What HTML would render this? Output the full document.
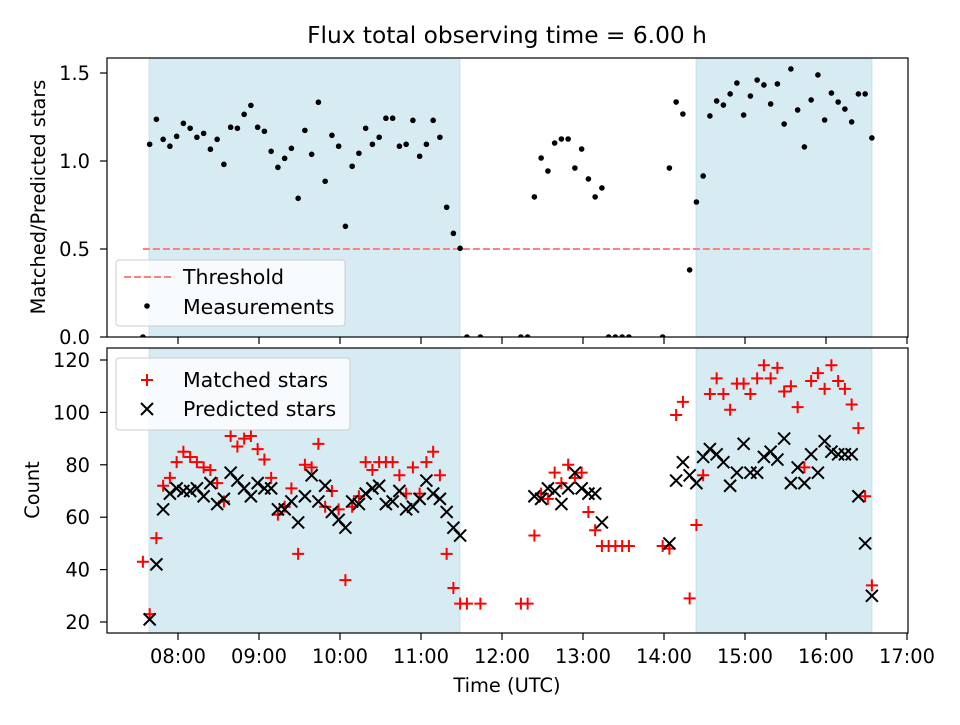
<!DOCTYPE html>
<html><head><meta charset="utf-8"><style>
body{margin:0;background:#fff}
svg text{font-family:"DejaVu Sans","Liberation Sans",sans-serif;fill:#000}
</style></head><body>
<svg id="fig" width="960" height="720" xmlns="http://www.w3.org/2000/svg">
<defs>
<clipPath id="clipTop"><rect x="107" y="58" width="801" height="279"/></clipPath>
<clipPath id="clipBot"><rect x="107" y="348" width="801" height="285"/></clipPath>
</defs>
<text x="507" y="43" font-size="23.3" text-anchor="middle">Flux total observing time = 6.00 h</text>
<g id="topPanel"></g>
<g id="botPanel"></g>
<text x="507" y="692" font-size="19.4" text-anchor="middle">Time (UTC)</text>
<text transform="translate(45,197) rotate(-90)" font-size="19.4" text-anchor="middle">Matched/Predicted stars</text>
<text transform="translate(39,490) rotate(-90)" font-size="19.4" text-anchor="middle">Count</text>
</svg>
<script>
const times = [454,459,464,469,474,479,484,489,494,499,504,509,514,519,524,529,534,539,544,549,554,559,564,569,574,579,584,589,594,599,604,609,614,619,624,629,634,639,644,649,654,659,664,669,674,679,684,689,694,699,704,709,714,719,724,729,734,739,744,749,754,759,764,769,774,779,784,789,794,799,804,809,814,819,824,829,834,839,844,849,854,859,864,869,874,879,884,889,894,899,904,909,914,919,924,929,934,939,944,949,954,959,964,969,974,979,984,989,994];
const ratio = [0,1.095,1.237,1.123,1.084,1.140,1.214,1.186,1.135,1.157,1.067,1.123,0.981,1.192,1.186,1.265,1.316,1.192,1.169,1.055,0.964,1.015,1.072,0.788,1.174,1.038,1.334,0.885,1.146,1.084,0.629,0.970,1.044,1.186,1.095,1.135,1.243,1.243,1.084,1.095,1.231,1.027,1.095,1.231,1.135,0.737,0.589,0.504,0,null,0,null,null,null,null,null,0,0,0.796,1.017,0.943,1.102,1.125,1.125,0.960,1.068,0.898,0.796,0.847,0,0,0,0,null,null,null,null,0,0.960,1.335,1.267,0.381,0.767,0.915,1.256,1.341,1.318,1.381,1.443,1.261,1.369,1.460,1.432,1.324,1.438,1.210,1.523,1.290,1.080,1.347,1.489,1.233,1.386,1.335,1.295,1.222,1.381,1.381,1.131];
const matched = [43,23,52,72,75,81,85,83,81,79,78,73,66,91,87,90,91,86,82,75,61,64,71,46,80,79,88,64,70,63,36,64,68,81,78,81,81,81,76,69,79,69,81,85,76,46,33,27,27,null,27,null,null,null,null,null,27,27,53,69,67,77,73,80,75,77,62,55,49,49,49,49,49,null,null,null,null,49,48,99,104,29,57,76,107,113,107,101,111,111,107,113,118,113,117,108,110,102,79,112,115,109,118,112,109,103,94,68,34];
const predicted = [null,21,42,63,69,71,70,70,71,68,73,65,67,77,74,71,68,73,71,71,63,63,66,58,68,76,66,72,62,59,56,66,65,69,71,72,65,66,70,63,64,67,74,69,67,62,56,53,null,null,null,null,null,null,null,null,null,null,68,67,71,70,65,71,77,71,69,69,58,null,null,null,null,null,null,null,null,null,50,74,81,76,73,83,86,84,81,72,77,88,77,77,83,85,82,90,73,79,73,84,77,89,85,84,84,84,68,50,30];
const threshold = 0.5;
const shadeStart = [7.642, 14.395];
const shadeEnd = [11.48, 16.568];
const xTickLabels = ["08:00","09:00","10:00","11:00","12:00","13:00","14:00","15:00","16:00","17:00"];
const xTickHours = [8,9,10,11,12,13,14,15,16,17];
const topTicks = [0.0,0.5,1.0,1.5];
const botTicks = [20,40,60,80,100,120];

const NS="http://www.w3.org/2000/svg";
const X0=107,X1=908;
const TF=19.4;
function xh(h){return 178+(h-8)*81;}
function xm(m){return xh(m/60);}
function yTop(v){return 337-v*176;}
function yBot(v){return 622-(v-20)*2.62;}
function mk(tag,attrs,parent){const e=document.createElementNS(NS,tag);for(const k in attrs)e.setAttribute(k,attrs[k]);parent.appendChild(e);return e;}

function panel(g,yA,yB,yfn,ticks,fmt,showX){
  for(let i=0;i<shadeStart.length;i++){
    const r=mk('rect',{x:xh(shadeStart[i]),y:yA,width:xh(shadeEnd[i])-xh(shadeStart[i]),height:yB-yA,fill:'#add8e6','fill-opacity':0.5,stroke:'#add8e6','stroke-opacity':0.6},g);
    
    
  }
  const frame=mk('rect',{x:X0,y:yA,width:X1-X0,height:yB-yA,fill:'none',stroke:'#000','stroke-width':1.2},g);
  
  
  ticks.forEach(t=>{
    const y=yfn(t);
    mk('line',{x1:X0-7,x2:X0,y1:y,y2:y,stroke:'#000','stroke-width':1.2},g);
    const tx=mk('text',{x:X0-17,y:y+7,'font-size':TF,'text-anchor':'end'},g);
    tx.textContent=fmt(t);
    
    
  });
  xTickHours.forEach((h,i)=>{
    const x=xh(h);
    mk('line',{x1:x,x2:x,y1:yB,y2:yB+7,stroke:'#000','stroke-width':1.2},g);
    if(showX){
      const tx=mk('text',{x:x,y:yB+30,'font-size':TF,'text-anchor':'middle'},g);
      tx.textContent=xTickLabels[i];
      
      
    }
  });
}
const topPanel=document.getElementById('topPanel'), botPanel=document.getElementById('botPanel');
panel(topPanel,58,337,yTop,topTicks,v=>v.toFixed(1),false);
panel(botPanel,348,633,yBot,botTicks,v=>String(v),true);

const th=mk('line',{x1:xm(times[0]),x2:xm(times[times.length-1]),y1:yTop(threshold),y2:yTop(threshold),stroke:'#ff8080','stroke-width':2,'stroke-dasharray':'7,3'},topPanel);



const gTop=mk('g',{'clip-path':'url(#clipTop)'},topPanel);
ratio.forEach((v,i)=>{
  if(v===null)return;
  const c=mk('circle',{cx:xm(times[i]),cy:yTop(v),r:2.8,fill:'#000'},gTop);
  
  
});
const gBot=mk('g',{'clip-path':'url(#clipBot)'},botPanel);
function plus(x,y,p){return mk('path',{d:`M${x-6} ${y}H${x+6}M${x} ${y-6}V${y+6}`,stroke:'#f00','stroke-width':2,fill:'none'},p);}
function cross(x,y,p){return mk('path',{d:`M${x-6} ${y-6}L${x+6} ${y+6}M${x-6} ${y+6}L${x+6} ${y-6}`,stroke:'#000','stroke-width':2,fill:'none'},p);}
matched.forEach((v,i)=>{
  if(v===null)return;
  const p=plus(xm(times[i]),yBot(v),gBot);
  
  
});
predicted.forEach((v,i)=>{
  if(v===null)return;
  const p=cross(xm(times[i]),yBot(v),gBot);
  
  
});

const LF=20.5;
const lt=mk('g',{},topPanel);


mk('rect',{x:116,y:260,width:229,height:66,rx:3,fill:'#fff','fill-opacity':0.8,stroke:'#ccc'},lt);
mk('line',{x1:124,x2:172,y1:277,y2:277,stroke:'#ff8080','stroke-width':2,'stroke-dasharray':'7,3'},lt);
const l1=mk('text',{x:183,y:284,'font-size':LF},lt);l1.textContent='Threshold';


mk('circle',{cx:147,cy:306,r:2.8,fill:'#000'},lt);
const l2=mk('text',{x:183,y:314,'font-size':LF},lt);l2.textContent='Measurements';



const lb=mk('g',{},botPanel);


mk('rect',{x:116,y:358,width:234,height:72,rx:3,fill:'#fff','fill-opacity':0.8,stroke:'#ccc'},lb);
plus(147,380,lb);
const l3=mk('text',{x:183,y:387,'font-size':LF},lb);l3.textContent='Matched stars';


cross(147,409,lb);
const l4=mk('text',{x:183,y:416,'font-size':LF},lb);l4.textContent='Predicted stars';


</script>
</body></html>
